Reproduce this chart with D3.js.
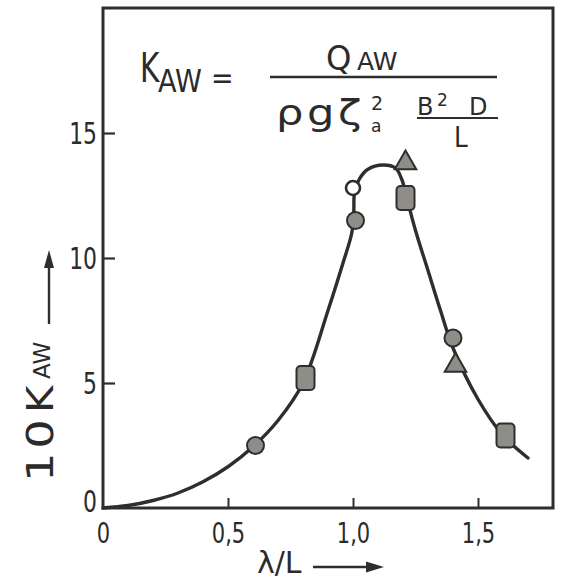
<!DOCTYPE html>
<html>
<head>
<meta charset="utf-8">
<script src="https://cdn.jsdelivr.net/npm/d3@7"></script>
<style>
  html, body { margin: 0; padding: 0; background: #ffffff; }
  svg { display: block; }
  text { font-family: "DejaVu Sans", sans-serif; fill: #2b2b2b; }
</style>
</head>
<body>
<svg id="chart" width="565" height="582"></svg>
<script>
// Axis ticks
const xTicks = [0, 0.5, 1.0, 1.5];
const yTicks = [0, 5, 10, 15];

// Faired response curve: wave length ratio vs 10*K_AW (traced in order along the line)
const curveX = [0, 0.1, 0.2, 0.3, 0.4, 0.5, 0.6, 0.7, 0.8, 0.9, 0.96, 0.995, 1.003, 1.006, 1.025, 1.06, 1.12, 1.17, 1.195, 1.215, 1.25, 1.3, 1.35, 1.4, 1.5, 1.6, 1.7];
const curveY = [0, 0.1, 0.3, 0.6, 1.05, 1.65, 2.45, 3.5, 5.0, 7.9, 9.8, 11.0, 11.8, 12.6, 13.15, 13.55, 13.72, 13.6, 13.15, 12.4, 11.1, 9.5, 7.9, 6.4, 4.35, 2.9, 2.0];

// Measured points by symbol
const circleX = [0.61, 1.01, 1.40];
const circleY = [2.5, 11.5, 6.8];
const openX = [1.0];
const openY = [12.8];
const squareX = [0.81, 1.21, 1.61];
const squareY = [5.2, 12.4, 2.9];
const triX = [1.21, 1.41];
const triY = [13.8, 5.7];

const ink = "#2e2e2e";
const markFill = "#8e8d88";

const svg = d3.select("#chart");

const x = d3.scaleLinear().domain([0, 1.8]).range([103, 553]);
const y = d3.scaleLinear().domain([0, 20]).range([508, 8]);

// Frame
svg.append("rect")
  .attr("x", x(0)).attr("y", y(20))
  .attr("width", x(1.8) - x(0)).attr("height", y(0) - y(20))
  .attr("fill", "none").attr("stroke", ink).attr("stroke-width", 3);

// Y axis with inward ticks
const yAxis = svg.append("g")
  .attr("transform", `translate(${x(0)},0)`)
  .call(d3.axisLeft(y).tickValues(yTicks).tickSizeInner(-12).tickSizeOuter(0).tickPadding(0)
    .tickFormat(d3.format("d")));
yAxis.select(".domain").remove();
yAxis.selectAll(".tick line").attr("stroke", ink).attr("stroke-width", 2.2)
  .filter(d => d === 0).remove();
yAxis.selectAll(".tick text")
  .attr("font-size", 30).attr("fill", "#2b2b2b")
  .attr("font-family", "DejaVu Sans, sans-serif")
  .attr("x", 0).attr("dy", null)
  .attr("transform", d => `translate(-6,${d === 0 ? 3 : 10}) scale(0.73,1)`);

// X axis with inward ticks
const fmtX = d => d === 0 ? "0" : d3.format(".1f")(d).replace(".", ",");
const xAxis = svg.append("g")
  .attr("transform", `translate(0,${y(0)})`)
  .call(d3.axisBottom(x).tickValues(xTicks).tickSizeInner(-10).tickSizeOuter(0).tickFormat(fmtX));
xAxis.select(".domain").remove();
xAxis.selectAll(".tick line").attr("stroke", ink).attr("stroke-width", 2)
  .filter(d => d === 0).remove();
xAxis.selectAll(".tick text")
  .attr("font-size", 28).attr("fill", "#2b2b2b")
  .attr("font-family", "DejaVu Sans, sans-serif")
  .attr("y", 0).attr("dy", null)
  .attr("transform", "translate(0,35) scale(0.75,1)");

// Curve
const line = d3.line()
  .x((d, i) => x(curveX[i]))
  .y((d, i) => y(curveY[i]))
  .curve(d3.curveCatmullRom.alpha(0.5));
svg.append("path")
  .datum(curveX)
  .attr("d", line)
  .attr("fill", "none").attr("stroke", ink).attr("stroke-width", 3.4)
  .attr("stroke-linejoin", "round").attr("stroke-linecap", "round");

// Markers
svg.append("g").selectAll("circle.filled")
  .data(circleX).join("circle")
  .attr("cx", (d, i) => x(circleX[i])).attr("cy", (d, i) => y(circleY[i]))
  .attr("r", 8.5).attr("fill", markFill).attr("stroke", ink).attr("stroke-width", 2);

svg.append("g").selectAll("circle.open")
  .data(openX).join("circle")
  .attr("cx", (d, i) => x(openX[i])).attr("cy", (d, i) => y(openY[i]))
  .attr("r", 7).attr("fill", "#ffffff").attr("stroke", ink).attr("stroke-width", 2.6);

svg.append("g").selectAll("rect")
  .data(squareX).join("rect")
  .attr("x", (d, i) => x(squareX[i]) - 9).attr("y", (d, i) => y(squareY[i]) - 12)
  .attr("width", 18).attr("height", 24).attr("rx", 4)
  .attr("fill", markFill).attr("stroke", ink).attr("stroke-width", 2);

const tri = d3.symbol().type(d3.symbolTriangle).size(200);
svg.append("g").selectAll("path")
  .data(triX).join("path")
  .attr("transform", (d, i) => `translate(${x(triX[i])},${y(triY[i])})`)
  .attr("d", tri)
  .attr("fill", markFill).attr("stroke", ink).attr("stroke-width", 2);

// Text helper: horizontally scaled lettering
function label(px, py, str, size, sx, opts = {}) {
  const g = svg.append("g").attr("transform", `translate(${px},${py}) ${opts.rotate ? "rotate(-90)" : ""} scale(${sx},1)`);
  const t = g.append("text").attr("font-size", size).text(str);
  if (opts.anchor) t.attr("text-anchor", opts.anchor);
  if (opts.spacing) t.attr("letter-spacing", opts.spacing);
  return t;
}

// Definition of the coefficient
label(140, 82, "K", 41, 0.72);
label(158, 92, "AW", 32, 0.85);
label(211, 88, "=", 30, 0.9);
svg.append("line").attr("x1", 270).attr("x2", 497).attr("y1", 77).attr("y2", 77)
  .attr("stroke", ink).attr("stroke-width", 2.5);
label(326, 70, "Q", 34, 0.95);
label(357, 70, "AW", 25, 1.0);
label(276, 125, "ρgζ", 36, 1.2, { spacing: 3 });
label(371, 110, "2", 19, 1.0);
label(371, 132, "a", 17, 1.0);
label(417, 115, "B", 24, 1.0);
label(437, 106, "2", 17, 1.0);
label(469, 115, "D", 24, 1.0);
svg.append("line").attr("x1", 417).attr("x2", 498).attr("y1", 118).attr("y2", 118)
  .attr("stroke", ink).attr("stroke-width", 2.2);
label(454, 147, "L", 29, 0.85);

// Y axis title with arrow
label(53, 482, "10", 38, 1.22, { rotate: true, spacing: 3 });
label(53, 413, "K", 38, 1.1, { rotate: true });
label(50, 379, "AW", 23, 1.0, { rotate: true });
svg.append("line").attr("x1", 49).attr("x2", 49).attr("y1", 324).attr("y2", 264)
  .attr("stroke", ink).attr("stroke-width", 2.4);
svg.append("path").attr("d", "M49,250 L44,268 L54,268 Z").attr("fill", ink);

// X axis title with arrow
label(257, 573, "λ/L", 30, 1.0);
svg.append("line").attr("x1", 313).attr("x2", 372).attr("y1", 567).attr("y2", 567)
  .attr("stroke", ink).attr("stroke-width", 2.4);
svg.append("path").attr("d", "M384,567 L366,561.5 L366,572.5 Z").attr("fill", ink);
</script>
</body>
</html>
